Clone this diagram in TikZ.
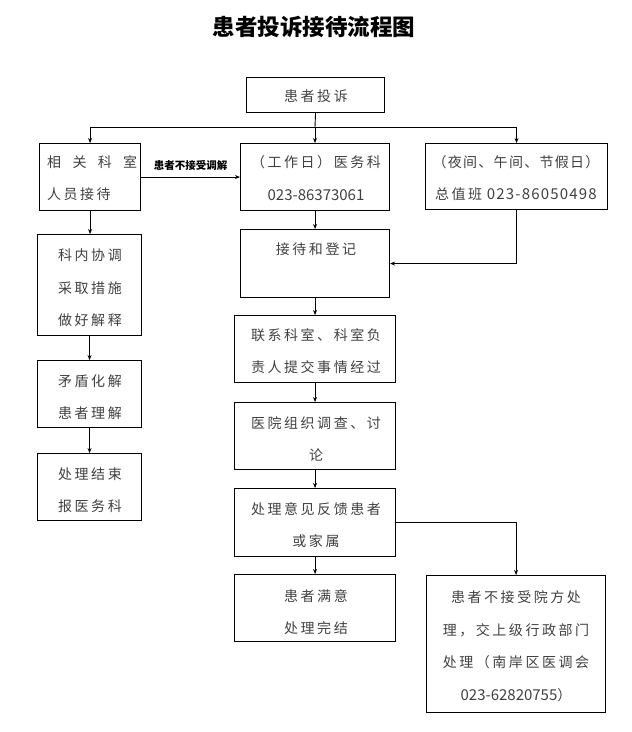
\documentclass[tikz,border=0pt]{standalone}
\usepackage{fontspec}
\usetikzlibrary{arrows.meta}
\newfontfamily\cjk[LetterSpace=18]{Noto Sans CJK SC}
\newfontfamily\cjks[LetterSpace=9]{Noto Sans CJK SC}
\newfontfamily\cjkn{Noto Sans CJK SC}
\newfontfamily\numsp[LetterSpace=8]{Noto Sans CJK SC}
\begin{document}
\begin{tikzpicture}[x=1pt,y=-1pt,
  box/.style={draw, line width=1.1pt, inner sep=0pt, anchor=north west},
  txt/.style={font=\cjk\fontsize{14}{32.5}\selectfont, text=black!75, inner sep=0pt, align=center},
  num/.style={},
  arr/.style={-{Stealth[length=5pt,width=4pt]}, line width=0.9pt},
  ln/.style={line width=0.9pt},
  lbl/.style={font=\cjkn\bfseries\fontsize{10.5}{12}\selectfont, inner sep=0pt}]
\useasboundingbox (0,0) rectangle (632,732);
% title
\node[font=\cjkn\bfseries\fontsize{22.5}{24}\selectfont, inner sep=0pt] (title) at (314,27) {患者投诉接待流程图};
% boxes
\node[box, minimum width=138pt, minimum height=35pt] (b0) at (246,77) {};
\node[box, minimum width=101pt, minimum height=67pt] (L1) at (39,143) {};
\node[box, minimum width=149pt, minimum height=67pt] (M1) at (240,143) {};
\node[box, minimum width=182pt, minimum height=66pt] (R1) at (425,143) {};
\node[box, minimum width=149pt, minimum height=68pt] (M2) at (240,229) {};
\node[box, minimum width=161pt, minimum height=67pt] (M3) at (234,315) {};
\node[box, minimum width=161pt, minimum height=67pt] (M4) at (234,402) {};
\node[box, minimum width=161pt, minimum height=68pt] (M5) at (234,488) {};
\node[box, minimum width=161pt, minimum height=67pt] (M6) at (234,574) {};
\node[box, minimum width=179pt, minimum height=137pt] (R6) at (426,575) {};
\node[box, minimum width=104pt, minimum height=101pt] (L2) at (37,234) {};
\node[box, minimum width=104pt, minimum height=67pt] (L3) at (37,360) {};
\node[box, minimum width=104pt, minimum height=67pt] (L4) at (37,453) {};
% texts
\node[txt] (t0) at (316,96) {患者投诉};
\node[txt, align=left, anchor=west] (tL1) at (47,178) {\makebox[90pt][s]{相\hfill 关\hfill 科\hfill 室}\\人员接待};
\node[txt] (tM1) at (316,178) {（工作日）医务科\\{\cjkn\fontsize{15}{15}\selectfont 023-86373061}};
\node[txt] (tR1) at (516,178) {{\cjks （夜间、午间、节假日）}\\总值班{\numsp\fontsize{15}{15}\selectfont\ 023-86050498}};
\node[txt] (tM2) at (316,249) {接待和登记};
\node[txt] (tM3) at (316,351) {联系科室、科室负\\责人提交事情经过};
\node[txt] (tM4) at (316,439) {医院组织调查、讨\\论};
\node[txt] (tM5) at (316,525) {处理意见反馈患者\\或家属};
\node[txt] (tM6) at (316,612) {患者满意\\处理完结};
\node[txt] (tR6) at (516,646) {患者不接受院方处\\理，交上级行政部门\\处理（南岸区医调会\\{\cjkn\fontsize{15}{15}\selectfont 023-62820755}）};
\node[txt] (tL2) at (90,288) {科内协调\\采取措施\\做好解释};
\node[txt] (tL3) at (90,397) {矛盾化解\\患者理解};
\node[txt] (tL4) at (90,490) {处理结束\\报医务科};
% connectors
\coordinate (j) at (315,127);
\draw[ln] (b0.south) -- (j);
\draw[ln] (j -| L1.north) -- (j -| R1.north);
\draw[arr] (j -| L1.north) -- (L1.north);
\draw[arr] (j) -- (j |- M1.north);
\draw[arr] (j -| R1.north) -- (R1.north);
\draw[arr] (L1.east) -- (M1.west) node[midway, above=6pt, lbl] (lab) {患者不接受调解};
\draw[arr] (L1.south) -- (L1.south |- L2.north);
\draw[arr] (L2.south) -- (L2.south |- L3.north);
\draw[arr] (L3.south) -- (L3.south |- L4.north);
\draw[arr] (M1.south) -- (M1.south |- M2.north);
\draw[arr] (R1.south) |- (M2.east);
\draw[arr] (M2.south) -- (M2.south |- M3.north);
\draw[arr] (M3.south) -- (M3.south |- M4.north);
\draw[arr] (M4.south) -- (M4.south |- M5.north);
\draw[arr] (M5.south) -- (M5.south |- M6.north);
\draw[arr] (M5.east) -| (R6.north);
\end{tikzpicture}
\end{document}
